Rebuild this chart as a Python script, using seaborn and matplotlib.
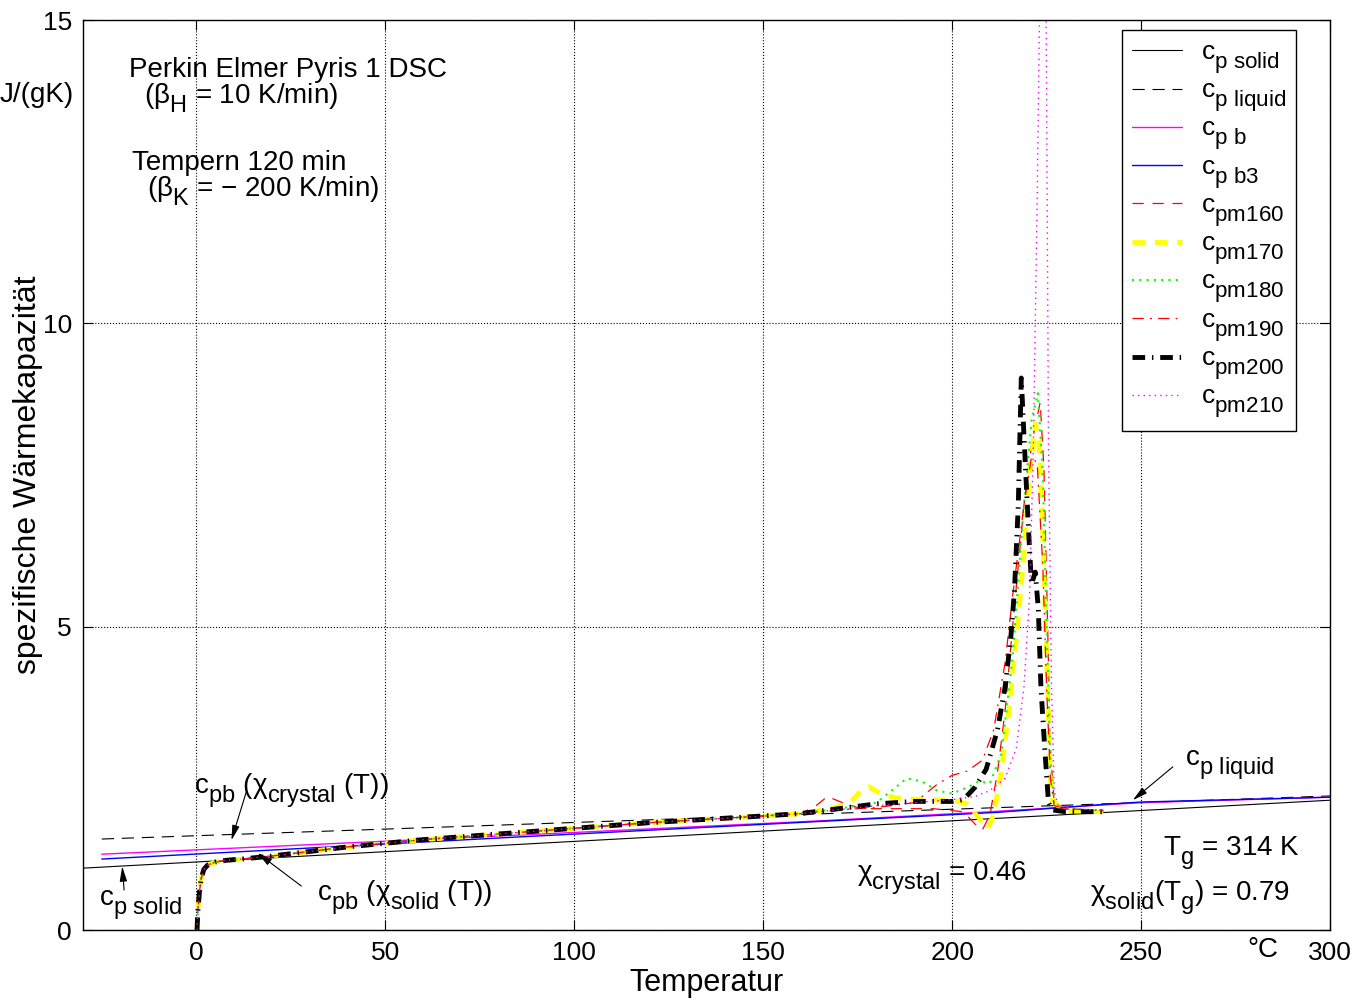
## DSC heat capacity curves after annealing (Perkin Elmer Pyris 1) - cp vs temperature

import numpy as np
import pandas as pd
import matplotlib
matplotlib.use('Agg')
import matplotlib.pyplot as plt
import matplotlib._mathtext as mathtext_internals
import seaborn as sns

# reference lines
T_solid = [-30, 300]
cp_solid = [1.02, 2.14]
T_liquid = [-25, 300]
cp_liquid = [1.50, 2.21]

T_b = [-25, 87, 165, 210, 250, 300]
cp_b = [1.25, 1.57, 1.80, 1.95, 2.10, 2.19]
T_b3 = [-25, 87, 165, 212, 240, 250, 300]
cp_b3 = [1.17, 1.54, 1.79, 1.94, 2.07, 2.11, 2.19]

# common part of all measured curves (0 .. 150 °C)
T_start = [0.2, 0.4, 0.8, 1.3, 2, 3, 5, 8, 12, 20, 40, 60, 90, 120, 150]
cp_start = [0.0, 0.3, 0.6, 0.85, 1.0, 1.07, 1.12, 1.15, 1.17, 1.22, 1.37, 1.49, 1.63, 1.77, 1.88]

# melting region per annealing temperature
T_pm160 = [160, 164, 167, 171, 176, 185, 195, 203, 206, 208, 210, 212, 214, 216, 219, 221, 223.3, 224.3, 225.2, 226, 227, 229, 235, 240]
cp_pm160 = [1.92, 2.05, 2.2, 2.1, 2.0, 2.0, 2.0, 1.95, 1.75, 1.65, 1.9, 2.6, 3.6, 5.0, 7.0, 8.0, 8.7, 7.6, 5.2, 3.0, 2.1, 2.0, 1.97, 1.97]
T_pm170 = [160, 168, 173, 176, 178, 181, 185, 192, 200, 204, 207, 209.5, 211, 213, 215, 217, 219, 220.5, 222, 223, 224, 225, 226, 226.5, 228, 230, 240]
cp_pm170 = [1.92, 2.0, 2.1, 2.3, 2.36, 2.25, 2.18, 2.15, 2.14, 2.08, 1.85, 1.68, 1.9, 2.6, 3.6, 4.8, 6.2, 7.5, 8.35, 8.0, 6.5, 4.5, 2.5, 2.15, 2.05, 1.97, 1.95]
T_pm180 = [160, 170, 180, 185, 188, 192, 196, 200, 204, 207, 210, 213, 216, 219, 221, 222.7, 224, 225, 226, 227, 230, 240]
cp_pm180 = [1.92, 2.0, 2.1, 2.35, 2.5, 2.45, 2.3, 2.25, 2.35, 2.45, 2.42, 2.9, 4.5, 7.0, 8.4, 8.85, 7.5, 5.0, 2.8, 2.1, 2.0, 1.97]
T_pm190 = [160, 170, 180, 190, 196, 200, 204, 208, 211, 214, 216, 219, 221, 222.5, 224, 225, 226, 227, 230, 240]
cp_pm190 = [1.92, 1.98, 2.02, 2.1, 2.4, 2.55, 2.62, 2.8, 3.3, 4.4, 5.5, 7.0, 7.8, 7.7, 6.0, 4.0, 2.5, 2.05, 2.0, 1.97]
T_pm200 = [160, 170, 180, 190, 200, 203, 206, 209, 212, 214, 215.5, 216.5, 217.5, 218.3, 219.5, 220.3, 221, 222, 222.8, 223.5, 224.5, 225.5, 226.5, 230, 240]
cp_pm200 = [1.92, 2.0, 2.08, 2.12, 2.12, 2.15, 2.35, 2.65, 3.3, 4.0, 4.8, 5.6, 7.0, 9.1, 7.5, 6.5, 5.7, 5.9, 5.3, 4.0, 3.0, 2.1, 1.98, 1.95, 1.95]
T_pm210 = [160, 180, 190, 200, 206, 210, 214, 217, 219, 220.5, 221.5, 222.5, 223.3, 224.8, 225.5, 226.3, 227, 228, 232, 240]
cp_pm210 = [1.92, 2.05, 2.1, 2.15, 2.2, 2.3, 2.5, 3.0, 4.0, 5.5, 8.0, 12.0, 16.0, 16.0, 8.0, 4.0, 2.3, 2.05, 2.0, 1.97]

x_ticks = [0, 50, 100, 150, 200, 250, 300]
y_ticks = [0, 5, 10, 15]

sns.set_style('ticks')
plt.rcParams['font.family'] = ['Liberation Sans', 'DejaVu Sans']
plt.rcParams['mathtext.fontset'] = 'custom'
plt.rcParams['mathtext.rm'] = 'Liberation Sans'
plt.rcParams['mathtext.it'] = 'Liberation Sans'
plt.rcParams['mathtext.default'] = 'regular'
for key in ['text.color', 'axes.labelcolor', 'xtick.color', 'ytick.color']:
    plt.rcParams[key] = 'k'

# MATLAB-like subscripts: bigger and set lower than mathtext's defaults
mathtext_internals.SHRINK_FACTOR = 0.85
mathtext_internals.FontConstantsBase.sub1 = 0.65
mathtext_internals.FontConstantsBase.sub2 = 0.85

fig = plt.figure(figsize=(13.59, 10.05), dpi=100)
ax = fig.add_axes([0.061, 0.0746, 0.9177, 0.9054])

series = [
    ('c$_{p\\ solid}$', T_solid, cp_solid, dict(color='k', lw=0.8, linestyle='-')),
    ('c$_{p\\ liquid}$', T_liquid, cp_liquid, dict(color='k', lw=0.8, linestyle=(0, (11, 7)))),
    ('c$_{p\\ b}$', T_b, cp_b, dict(color='#ff00ff', lw=1.0, linestyle='-')),
    ('c$_{p\\ b3}$', T_b3, cp_b3, dict(color='#0000ff', lw=1.0, linestyle='-')),
    ('c$_{pm160}$', T_start + T_pm160, cp_start + cp_pm160, dict(color='#ff0000', lw=0.9, linestyle=(0, (9, 7)))),
    ('c$_{pm170}$', T_start + T_pm170, cp_start + cp_pm170, dict(color='#ffff00', lw=3.5, linestyle=(0, (2.6, 2.0)))),
    ('c$_{pm180}$', T_start + T_pm180, cp_start + cp_pm180, dict(color='#00ff00', lw=1.5, linestyle=(0, (1, 2.5)))),
    ('c$_{pm190}$', T_start + T_pm190, cp_start + cp_pm190, dict(color='#ff0000', lw=0.9, linestyle=(0, (9, 5, 1.5, 5)))),
    ('c$_{pm200}$', T_start + T_pm200, cp_start + cp_pm200, dict(color='k', lw=3.5, linestyle=(0, (2.6, 1.4, 0.3, 1.4)))),
    ('c$_{pm210}$', T_start + T_pm210, cp_start + cp_pm210, dict(color='#ff00ff', lw=1.0, linestyle=(0, (1, 3)))),
]

for label, T, cp, style in series:
    df = pd.DataFrame({'T': T, 'cp': cp})
    sns.lineplot(data=df, x='T', y='cp', ax=ax, sort=False, estimator=None, label=label, **style)

ax.set_xlim(-30, 300)
ax.set_ylim(0, 15)
ax.set_xticks(x_ticks)
ax.set_xticklabels([str(t) for t in x_ticks])
ax.set_yticks(y_ticks)
ax.grid(True, linestyle=':', color='k', lw=0.8)
ax.tick_params(direction='in', top=True, right=True, length=7, width=0.8, labelsize=19, pad=8)
for sp in ax.spines.values():
    sp.set_color('k')
    sp.set_linewidth(1.0)

ax.set_xlabel('Temperatur', fontsize=22, labelpad=2)
ax.set_ylabel('spezifische Wärmekapazität', fontsize=23, labelpad=0)
ax.text(-0.037, 0.918, 'J/(gK)', transform=ax.transAxes, fontsize=20, ha='center', va='center')
ax.text(0.946, -0.008, '°C', transform=ax.transAxes, fontsize=20, ha='center', va='top')

# annotations
fs = 20
ax.text(-17.7, 14.06, 'Perkin Elmer Pyris 1 DSC', fontsize=fs, va='baseline')
ax.text(-13.8, 13.63, '(β$_H$ = 10 K/min)', fontsize=fs, va='baseline')
ax.text(-16.9, 12.53, 'Tempern 120 min', fontsize=fs, va='baseline')
ax.text(-13.0, 12.10, '(β$_K$ = − 200 K/min)', fontsize=fs, va='baseline')

ax.text(-0.5, 2.26, 'c$_{pb}$ (χ$_{crystal}$ (T))', fontsize=fs, va='baseline')
ax.text(-25.7, 0.41, 'c$_{p\\ solid}$', fontsize=fs, va='baseline')
ax.text(32.0, 0.49, 'c$_{pb}$ (χ$_{solid}$ (T))', fontsize=fs, va='baseline')
ax.text(261.6, 2.72, 'c$_{p\\ liquid}$', fontsize=fs, va='baseline')
ax.text(174.7, 0.82, 'χ$_{crystal}$ = 0.46', fontsize=fs, va='baseline')
ax.text(255.8, 1.24, 'T$_g$ = 314 K', fontsize=fs, va='baseline')
ax.text(236.4, 0.49, 'χ$_{solid}$(T$_g$) = 0.79', fontsize=fs, va='baseline')

arrow = dict(arrowstyle='-|>,head_length=0.9,head_width=0.22', color='k', lw=0.8, shrinkA=0, shrinkB=0)
ax.annotate('', xy=(9.3, 1.48), xytext=(13.2, 2.27), arrowprops=arrow)
ax.annotate('', xy=(-19.6, 1.05), xytext=(-19.1, 0.66), arrowprops=arrow)
ax.annotate('', xy=(16.2, 1.27), xytext=(27.8, 0.725), arrowprops=arrow)
ax.annotate('', xy=(247.8, 2.14), xytext=(258.4, 2.69), arrowprops=arrow)

handles, labels = ax.get_legend_handles_labels()
leg = ax.legend(handles, labels, loc='upper right', bbox_to_anchor=(0.973, 0.989), borderaxespad=0,
                fontsize=19, handlelength=1.9, handletextpad=0.7, labelspacing=0.12,
                borderpad=0.4, frameon=True, fancybox=False, framealpha=1, edgecolor='k')
leg.get_frame().set_linewidth(1.0)

fig.savefig('out.png', dpi=100)
